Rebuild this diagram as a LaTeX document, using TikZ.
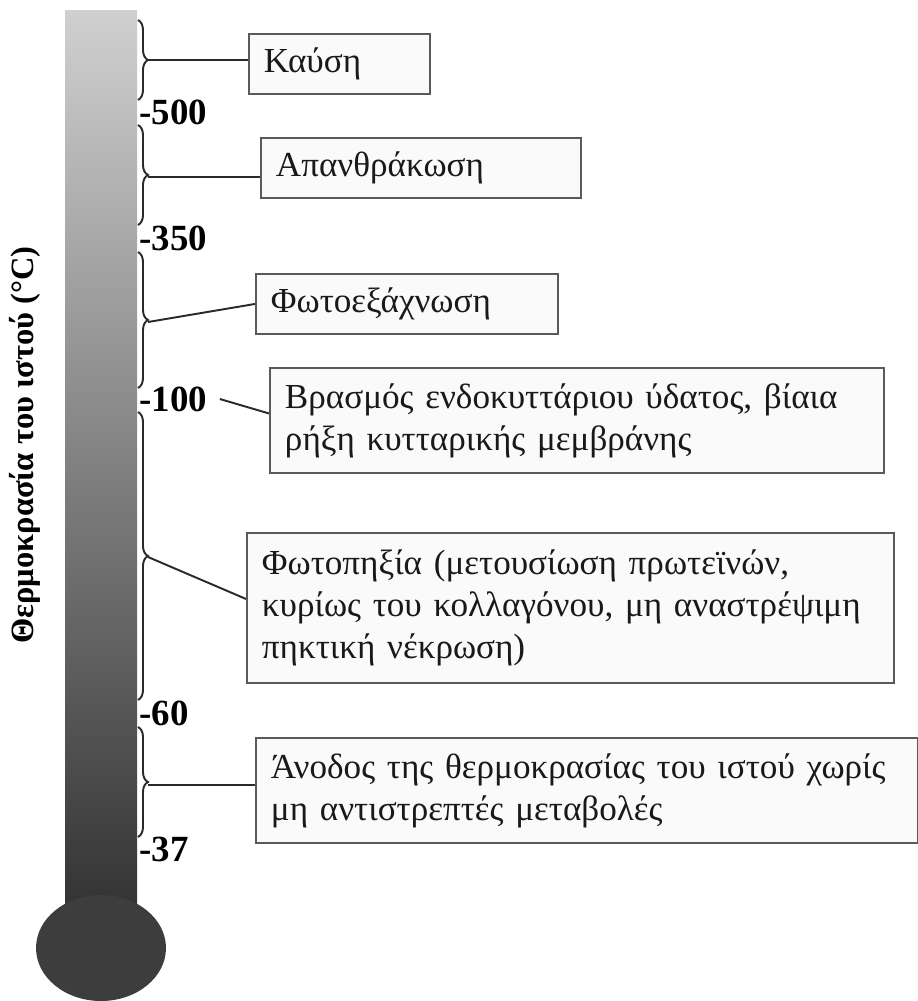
\documentclass[tikz,border=0pt]{standalone}
\usepackage{fontspec}
\setmainfont{Liberation Serif}
\usepackage{tikz}
\usetikzlibrary{positioning,calc,decorations.pathreplacing}
\definecolor{tubeTop}{HTML}{D0D0D0}
\definecolor{tubeBot}{HTML}{333333}
\definecolor{lineGray}{HTML}{2A2A2A}
\definecolor{boxGray}{HTML}{5A5A5A}
\definecolor{boxBg}{HTML}{FAFAFA}
\tikzset{
  stadio/.style={draw=boxGray, line width=1.1pt, fill=boxBg, anchor=north west, align=left, inner xsep=0.3cm, font=\fontsize{20}{24}\selectfont, text=black!90},
  agkyli/.style={draw=lineGray, line width=1.1pt, decorate, decoration={brace, amplitude=0.2cm}},
  syndesi/.style={draw=lineGray, line width=1.1pt},
  timi/.style={anchor=west, inner sep=0pt, font=\fontsize{21}{24}\bfseries\selectfont},
}

\begin{document}
\begin{tikzpicture}[x=0.02cm, y=-0.02cm]
\useasboundingbox (0,0) rectangle (918,1001);

% thermometer
\shade[top color=tubeTop, bottom color=tubeBot] (65,10) rectangle (137,910);
\fill[tubeBot!95!white] (101,948) ellipse [x radius=1.3cm, y radius=1.06cm];
\node[rotate=90, font=\fontsize{18.5}{22}\bfseries\selectfont] (axon) at (25,445) {Θερμοκρασία του ιστού (°C)};

% braces
\draw[agkyli] (138,20) -- (138,100);
\draw[agkyli] (138,125) -- (138,225);
\draw[agkyli] (138,252) -- (138,388);
\draw[agkyli] (138,412) -- (138,700);
\draw[agkyli] (138,727) -- (138,837);
\coordinate (k1) at (148,60);
\coordinate (k2) at (148,177);
\coordinate (k3) at (148,322);
\coordinate (k4) at (148,557);
\coordinate (k5) at (148,785);

% values
\node[timi] (t500) at (139,112) {-500};
\node[timi] (t350) at (139,238) {-350};
\node[timi] (t100) at (139,399) {-100};
\node[timi] (t60) at (139,713) {-60};
\node[timi] (t37) at (139,849) {-37};

% stages
\node[stadio, text width=3.02cm, minimum height=1.2cm] (b1) at (248,33) {Καύση};
\node[stadio, text width=5.8cm, minimum height=1.2cm] (b2) at (260,137) {Απανθράκωση};
\node[stadio, text width=5.44cm, minimum height=1.2cm] (b3) at (255,273) {Φωτοεξάχνωση};
\node[stadio, text width=11.68cm, minimum height=2.1cm] (b4) at (269,367) {Βρασμός ενδοκυττάριου ύδατος, βίαια\\ρήξη κυτταρικής μεμβράνης};
\node[stadio, text width=12.34cm, minimum height=3.0cm] (b5) at (246,532) {Φωτοπηξία (μετουσίωση πρωτεϊνών,\\κυρίως του κολλαγόνου, μη αναστρέψιμη\\πηκτική νέκρωση)};
\node[stadio, text width=12.64cm, minimum height=2.1cm] (b6) at (255,737) {Άνοδος της θερμοκρασίας του ιστού χωρίς\\μη αντιστρεπτές μεταβολές};

% connectors
\draw[syndesi] (k1) -- (b1.west |- k1);
\draw[syndesi] (k2) -- (b2.west |- k2);
\draw[syndesi] (k3) -- (b3.west);
\draw[syndesi] ([xshift=0.25cm]t100.east) -- ([yshift=0.14cm]b4.west);
\draw[syndesi] (k4) -- ([yshift=0.18cm]b5.west);
\draw[syndesi] (k5) -- (b6.west |- k5);
\end{tikzpicture}
\end{document}
